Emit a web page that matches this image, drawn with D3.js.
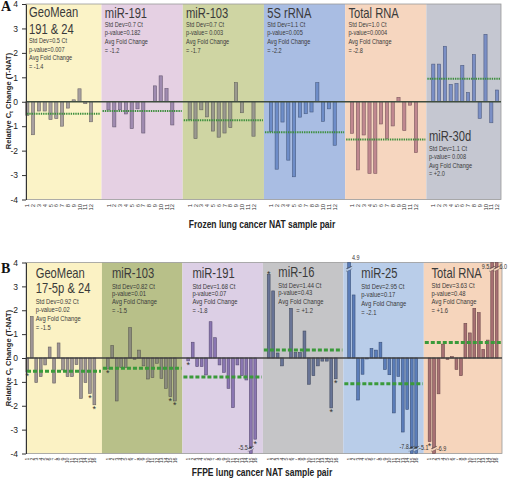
<!DOCTYPE html>
<html><head><meta charset="utf-8">
<script src="https://d3js.org/d3.v7.min.js"></script>
<style>html,body{margin:0;padding:0;background:#fff;}svg{display:block}</style>
</head><body>
<svg id="chart" width="512" height="481"></svg>
<script>
// ================= DATA =================
const yTicks = [4, 3, 2, 1, 0, -1, -2, -3, -4];
const yTitleMain = "Relative C";
const yTitleSub = "t";
const yTitleEnd = " Change (T-NAT)";

// ---- Panel A (frozen) ----
const sectionsA = ["GeoMean 191 & 24", "miR-191", "miR-103", "5S rRNA", "Total RNA", "miR-30d"];
const titleLinesA = [["GeoMean", "191 & 24"], ["miR-191"], ["miR-103"], ["5S rRNA"], ["Total RNA"], ["miR-30d"]];
const statsA = [
  ["Std Dev=0.5 Ct", "p-value=0.007", "Avg Fold Change", "= -1.4"],
  ["Std Dev=0.7 Ct", "p-value=0.182", "Avg Fold Change", "= -1.2"],
  ["Std Dev=0.7 Ct", "p-value= 0.003", "Avg Fold Change", "= -1.7"],
  ["Std Dev=1.1 Ct", "p-value=0.005", "Avg Fold Change", "= -2.2"],
  ["Std Dev=1.0 Ct", "p-value=0.0004", "Avg Fold Change", "= -2.8"],
  ["Std Dev=1.1 Ct", "p-value= 0.008", "Avg Fold Change", "= +2.0"]
];
const pairLabelsA = ["1","2","3","4","5","6","7","8","9","10","11","12"];
const a_geoMean  = [-0.56, -1.35, -0.38, -0.38, -0.73, -0.69, -1.00, -0.26, 0.08, 0.53, -0.08, -0.82];
const a_miR191   = [-0.33, -1.03, -0.33, -0.50, -1.10, -0.29, -1.28, 0.00, 0.65, 1.06, 0.54, -0.95];
const a_miR103   = [-0.73, -1.51, -0.33, -0.62, -1.20, -1.45, -1.28, -1.06, 0.78, -0.45, 0.00, -1.41];
const a_5SrRNA   = [-1.21, -2.76, -0.83, -2.39, -3.07, -0.63, -0.49, -0.42, 0.78, -0.80, -0.29, -1.78];
const a_totalRNA = [-1.29, -2.79, -1.36, -2.93, -2.93, -0.91, -1.50, -0.99, 0.18, -1.18, -0.14, -2.08];
const a_miR30d   = [1.54, 1.54, 2.27, 0.71, 0.75, 1.49, 0.38, 1.93, -0.68, 2.76, -0.86, 0.48];
const avgA = [-0.49, -0.38, -0.76, -1.25, -1.54, 0.94];
const xTitleA = "Frozen lung cancer NAT sample pair";

// ---- Panel B (FFPE) ----
const sectionsB = ["GeoMean 17-5p & 24", "miR-103", "miR-191", "miR-16", "miR-25", "Total RNA"];
const titleLinesB = [["GeoMean", "17-5p & 24"], ["miR-103"], ["miR-191"], ["miR-16"], ["miR-25"], ["Total RNA"]];
const statsB = [
  ["Std Dev=0.92 Ct", "p-value=0.02", "Avg Fold Change", "= -1.5"],
  ["Std Dev=0.82 Ct", "p-value=0.01", "Avg Fold Change", "= -1.5"],
  ["Std Dev=1.68 Ct", "p-value=0.07", "Avg Fold Change", "= -1.8"],
  ["Std Dev=1.44 Ct", "p-value=0.43", "Avg Fold Change", "= +1.2"],
  ["Std Dev=2.95 Ct", "p-value=0.17", "Avg Fold Change", "= -2.1"],
  ["Std Dev=3.63 Ct", "p-value=0.48", "Avg Fold Change", "= +1.6"]
];
const pairLabelsB = ["1","2","3","4","5","6","7","8","9","10","11","12","13","14","15","16"];
const b_geoMean  = [-0.58, 1.74, -1.03, -0.78, -0.29, 0.46, -1.05, 0.63, -0.50, -0.78, -0.78, -0.28, -1.69, -1.03, -1.48, -1.96];
const b_miR103   = [-0.46, 0.52, -1.80, -0.40, -0.40, 1.27, -0.06, 0.33, -0.33, -0.88, -0.82, -0.22, -0.85, -1.27, -1.62, -1.80];
const b_miR191   = [-0.12, 0.66, -0.36, -0.36, -0.71, 1.52, 0.85, -0.29, -0.60, -1.27, -2.08, -0.29, -0.74, -0.92, -5.5, -3.40];
const b_miR16    = [3.50, 2.81, 0.21, -0.33, 0.00, 2.08, 0.23, 0.23, 1.13, -1.10, -0.74, -0.33, -0.13, -0.13, -2.09, -0.87];
const b_miR25    = [4.9, 2.64, -1.76, -0.68, -0.04, 0.40, 0.33, 0.66, -0.48, -0.70, -2.30, -0.77, -3.10, -2.15, -7.8, -5.1];
const b_totalRNA = [-3.50, -6.9, -1.50, 0.58, -0.06, 0.06, -0.48, -0.74, 1.45, 1.05, 2.08, 1.90, 0.36, 0.75, 9.5, 6.0];
const avgB = [-0.55, -0.43, -0.80, 0.33, -1.08, 0.65];
const starsB = [[0, 14, 15], [0, 14, 15], [0, 14, 15], [0, 14, 15], [14, 15], [0]];
const xTitleB = "FFPE lung cancer NAT sample pair";

// ================= STYLE / LAYOUT =================
const FONT = "'Liberation Sans', Arial, Helvetica, sans-serif";
const svg = d3.select("#chart");

const styleA = {
  top: 4, bottom: 199.5, left: 26, right: 501,
  slotsPer: 14, slotStart: 24.4, slotStep: 5.8, padIn: 0.45, boundFrac: 1.2,
  bg: ["#fbf3c7", "#e5d0e3", "#cfd5a3", "#a9bde3", "#f6d6bf", "#c5c7d1"],
  bar: ["#a8a0a0", "#9f8bb0", "#9a998f", "#6e8dc8", "#c08890", "#7b8fc5"],
  zero: "#3f4d3f",
  avg: {stroke: "#3d8f3d", width: 2, dash: "1.4,0.9"},
  labelTop: 204, labelSize: 5.8,
  text: [
    {dx: 3, titleY: [17, 33.5], tSize: 14, statsY: [43, 51.5, 60, 68.5]},
    {dx: 3.3, titleY: [17.5], tSize: 14, statsY: [26.5, 35, 43.5, 52.5]},
    {dx: 3.3, titleY: [17.5], tSize: 14, statsY: [26.5, 35, 43.5, 52.5]},
    {dx: 3.3, titleY: [17.5], tSize: 14, statsY: [26.5, 35, 43.5, 52.5]},
    {dx: 3.3, titleY: [17.5], tSize: 14, statsY: [26.5, 35, 43.5, 52.5]},
    {dx: 2.6, titleY: [141], tSize: 14, statsY: [150.5, 159, 167.5, 176]}
  ],
  sSize: 7,
  xTitleY: 227.5, letter: "A", letterY: 10.5, yTitleY: 101
};
const styleB = {
  top: 262.5, bottom: 453.5, left: 26, right: 502,
  slotsPer: 18, slotStart: 25.07, slotStep: 4.47, padIn: 0.37, boundFrac: 1.3,
  bg: ["#fbf2c4", "#b8c089", "#dccfe5", "#c5c5c7", "#b9cde9", "#f6d5bc"],
  bar: ["#9f9696", "#8c8c7e", "#8a76b2", "#687496", "#5b7db9", "#a77073"],
  zero: "#404040",
  avg: {stroke: "#3a9a3a", width: 3, dash: "4,2"},
  labelTop: 457.5, labelSize: 5.2,
  text: [
    {dx: 9.7, titleY: [277.5, 293], tSize: 14, statsY: [304, 311.5, 320.5, 329.5]},
    {dx: 10, titleY: [277.7], tSize: 14, statsY: [288.5, 296, 304, 312.5]},
    {dx: 10, titleY: [277.7], tSize: 14, statsY: [288.5, 296, 304, 312.5]},
    {dx: 15.5, titleY: [277], tSize: 14, statsY: [287.5, 295, 304, 313], lastDx: 18},
    {dx: 18, titleY: [278], tSize: 14, statsY: [288.5, 296.5, 305.5, 314.5]},
    {dx: 7.7, titleY: [277.7], tSize: 14, statsY: [287.5, 295.5, 304, 313]}
  ],
  sSize: 7.3,
  xTitleY: 475.5, letter: "B", letterY: 273, yTitleY: 358,
  breakLabels: [
    {sec: 2, bar: 14, side: "left", y: 450},
    {sec: 4, bar: 0, side: "right", y: 260},
    {sec: 4, bar: 14, side: "left", y: 449},
    {sec: 4, bar: 15, side: "right", y: 450},
    {sec: 5, bar: 1, side: "right", y: 451},
    {sec: 5, bar: 14, side: "left", y: 268.5},
    {sec: 5, bar: 15, side: "right", y: 268.5}
  ]
};

function sText(sel, x, y, str, size, o = {}) {
  return sel.append("text")
    .attr("transform", `translate(${x},${y}) scale(${o.sx || 0.8},1)`)
    .attr("font-family", FONT)
    .attr("font-size", size)
    .attr("font-weight", o.bold ? "bold" : null)
    .attr("fill", o.fill || "#333")
    .attr("text-anchor", o.anchor || "start")
    .text(str);
}

function drawPanel(series, sections, titles, stats, avgs, pairLabels, xTitle, st, stars) {
  const g = svg.append("g");
  const n = sections.length, P = st.slotsPer;
  const y = d3.scaleLinear().domain([-4, 4]).range([st.bottom, st.top]);
  const slot = d3.scaleBand().domain(d3.range(n * P))
    .range([st.slotStart, st.slotStart + n * P * st.slotStep])
    .paddingInner(st.padIn).paddingOuter(st.padIn / 2);
  const step = slot.step(), bw = slot.bandwidth();
  const cx = k => slot(k) + bw / 2;
  const bound = i => i === 0 ? st.left : (i === n ? st.right : cx(i * P) - st.boundFrac * step);
  const secData = sections.map((s, i) => ({s, i, x0: bound(i), x1: bound(i + 1)}));

  // backgrounds
  g.selectAll("rect.bg").data(secData).join("rect").attr("class", "bg")
    .attr("x", d => d.x0).attr("y", st.top).attr("width", d => d.x1 - d.x0)
    .attr("height", st.bottom - st.top).attr("fill", d => st.bg[d.i]);
  g.append("rect").attr("x", st.left).attr("y", st.top).attr("width", st.right - st.left)
    .attr("height", st.bottom - st.top).attr("fill", "none").attr("stroke", "#9a9a9a").attr("stroke-width", 0.8);

  // section texts
  secData.forEach(d => {
    const L = st.text[d.i];
    const tx = d.x0 + L.dx;
    titles[d.i].forEach((t, k) => sText(g, tx, L.titleY[k], t, L.tSize, {fill: "#3a3a3a"}));
    stats[d.i].forEach((t, k) => sText(g, tx + (k === 3 && L.lastDx ? L.lastDx : 0), L.statsY[k], t, st.sSize, {fill: "#3a3a3a"}));
  });

  // bars
  const bars = series.flatMap((vals, i) => vals.map((v, j) => ({i, j, v, vc: Math.max(-4, Math.min(4, v))})));
  g.selectAll("rect.bar").data(bars).join("rect").attr("class", "bar")
    .attr("x", d => slot(d.i * P + d.j)).attr("width", bw)
    .attr("y", d => Math.min(y(d.vc), y(0))).attr("height", d => Math.abs(y(d.vc) - y(0)))
    .attr("fill", d => st.bar[d.i])
    .attr("stroke", d => d3.color(st.bar[d.i]).darker(1.2)).attr("stroke-width", 0.6);

  // zero line
  g.append("line").attr("x1", st.left).attr("x2", st.right).attr("y1", y(0)).attr("y2", y(0))
    .attr("stroke", st.zero).attr("stroke-width", 1.3);

  // average lines
  g.selectAll("line.avg").data(secData).join("line").attr("class", "avg")
    .attr("x1", d => d.x0 + 1).attr("x2", d => d.x1 - 1)
    .attr("y1", d => y(avgs[d.i])).attr("y2", d => y(avgs[d.i]))
    .attr("stroke", st.avg.stroke).attr("stroke-width", st.avg.width).attr("stroke-dasharray", st.avg.dash);

  // broken bars
  const broken = bars.filter(d => Math.abs(d.v) > 4);
  broken.forEach(d => {
    const x = slot(d.i * P + d.j);
    const yy = d.v > 0 ? st.top + 5 : st.bottom - 6;
    [0, 2.4].forEach(o => g.append("line")
      .attr("x1", x - 1.6).attr("x2", x + bw + 1.6)
      .attr("y1", yy + o + 1.3).attr("y2", yy + o - 1.3)
      .attr("stroke", "#444").attr("stroke-width", 0.6));
    g.append("polygon")
      .attr("points", [[x - 1, yy + 1.9], [x + bw + 1, yy - 0.5], [x + bw + 1, yy + 1.4], [x - 1, yy + 3.8]].map(p => p.join(",")).join(" "))
      .attr("fill", st.bg[d.i]);
  });
  (st.breakLabels || []).forEach(b => {
    const v = series[b.sec][b.bar];
    const x = slot(b.sec * P + b.bar);
    const left = b.side === "left";
    sText(g, left ? x - 1.5 : x + bw + 1.5, b.y, d3.format(".1f")(v).replace("−", "-"), 6.8,
      {anchor: left ? "end" : "start", fill: "#333"});
  });

  // stars
  if (stars) {
    const sData = stars.flatMap((arr, i) => arr.map(j => ({i, j, v: series[i][j]})));
    g.selectAll("text.star").data(sData).join("text").attr("class", "star")
      .attr("x", d => cx(d.i * P + d.j))
      .attr("y", d => {
        const vc = Math.max(-4, Math.min(4, d.v));
        if (Math.abs(d.v) > 4) return d.v < 0 ? y(-3.75) + 4 : y(3.75) + 4;
        return d.v >= 0 ? y(vc) + 2.2 : y(vc) + 7.5;
      })
      .attr("text-anchor", "middle").attr("font-family", FONT).attr("font-size", 9)
      .attr("fill", "#333").text("*");
  }

  // y axis
  const ax = g.append("g").attr("transform", `translate(${st.left},0)`)
    .call(d3.axisLeft(y).tickValues(yTicks).tickSize(4).tickSizeOuter(0).tickPadding(4).tickFormat(d3.format("d")));
  ax.select(".domain").attr("stroke", "#333").attr("stroke-width", 1);
  ax.selectAll(".tick line").attr("stroke", "#333");
  ax.selectAll(".tick text").attr("font-family", FONT).attr("font-size", 8.5).attr("fill", "#222")
    .text(d => d3.format("d")(d).replace("−", "-"));

  // pair labels (rotated)
  const labs = sections.flatMap((s, i) => series[i].map((v, j) => ({i, j, t: pairLabels[j]})));
  g.selectAll("text.pair").data(labs).join("text").attr("class", "pair")
    .attr("transform", d => `translate(${cx(d.i * P + d.j)},${st.labelTop}) rotate(-90)`)
    .attr("dy", "0.35em").attr("text-anchor", "end")
    .attr("font-family", FONT).attr("font-size", st.labelSize).attr("fill", "#333")
    .text(d => d.t);

  // x title
  sText(g, 262, st.xTitleY, xTitle, 10, {bold: true, anchor: "middle", sx: 0.85, fill: "#222"});

  // y title
  const yt = g.append("text").attr("transform", `translate(11,${st.yTitleY}) rotate(-90)`)
    .attr("text-anchor", "middle").attr("font-family", FONT).attr("font-size", 7.5)
    .attr("font-weight", "bold").attr("fill", "#222");
  yt.append("tspan").text(yTitleMain);
  yt.append("tspan").attr("font-size", 5.5).attr("dy", 1.5).text(yTitleSub);
  yt.append("tspan").attr("dy", -1.5).text(yTitleEnd);

  // panel letter
  g.append("text").attr("x", 1).attr("y", st.letterY).attr("font-family", "'Liberation Serif', 'Times New Roman', serif")
    .attr("font-weight", "bold").attr("font-size", 14).attr("fill", "#111").text(st.letter);
}

drawPanel([a_geoMean, a_miR191, a_miR103, a_5SrRNA, a_totalRNA, a_miR30d],
  sectionsA, titleLinesA, statsA, avgA, pairLabelsA, xTitleA, styleA, null);
drawPanel([b_geoMean, b_miR103, b_miR191, b_miR16, b_miR25, b_totalRNA],
  sectionsB, titleLinesB, statsB, avgB, pairLabelsB, xTitleB, styleB, starsB);
</script>
</body></html>
